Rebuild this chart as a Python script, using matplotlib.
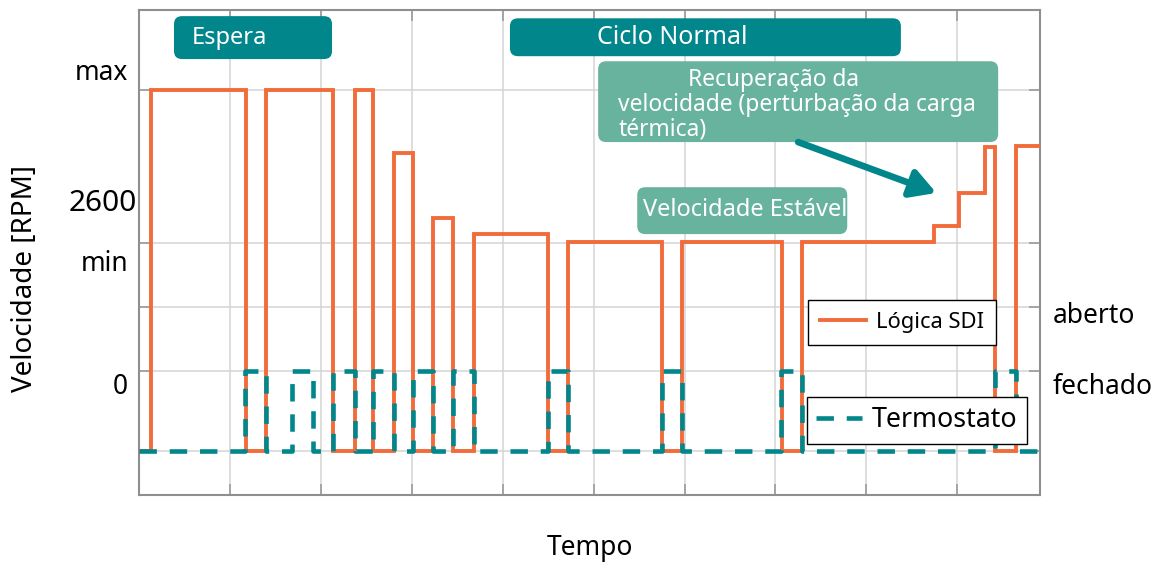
import matplotlib
matplotlib.use("Agg")
import matplotlib.pyplot as plt
from matplotlib.patches import FancyBboxPatch
from matplotlib.lines import Line2D

plt.rcParams['font.family'] = ['Noto Sans', 'DejaVu Sans']

# ---------------- data ----------------
time_sdi = [0, 0.13, 1.18, 1.40, 2.13, 2.38, 2.57, 2.81, 3.01, 3.23, 3.45, 3.69,
            4.50, 4.72, 5.75, 5.97, 7.07, 7.29, 8.74, 9.02, 9.31, 9.42, 9.65, 9.91]
speed_sdi = [0, 100, 0, 100, 0, 100, 0, 82.5, 0, 64.5, 0, 60.0,
             0, 57.8, 0, 57.8, 0, 57.8, 62.3, 71.6, 84.3, 0, 84.5, 84.5]

time_thermo = [0, 1.17, 1.40, 1.68, 1.91, 2.13, 2.38, 2.57, 2.81, 3.01, 3.23,
               3.45, 3.69, 4.50, 4.72, 5.75, 5.97, 7.06, 7.29, 9.42, 9.65, 9.91]
state_thermo = [0, 1, 0, 1, 0, 1, 0, 1, 0, 1, 0, 1, 0, 1, 0, 1, 0, 1, 0, 1, 0, 0]
thermo_open_level = 22.2

speed_tick_labels = ['max', '2600', 'min', '0']
speed_tick_pos = [104.7, 68.7, 51.8, 17.7]
thermo_labels = ['aberto', 'fechado']
thermo_label_pos = [37.4, 17.7]

ygrid = [0, 22.2, 39.9, 57.6, 100]
xgrid = [1, 2, 3, 4, 5, 6, 7, 8, 9]

ORANGE = '#F26B3A'
TEAL = '#00868B'
LGREEN = '#68B39D'

# ---------------- figure ----------------
W, H = 1168, 565
fig = plt.figure(figsize=(W / 100, H / 100), dpi=100)
ax = fig.add_axes([139 / W, 1 - 495 / H, (1040 - 139) / W, (495 - 10) / H])
xmin, xmax, ymin, ymax = 0, 9.91, -12.2, 122.2
ax.set_xlim(xmin, xmax)
ax.set_ylim(ymin, ymax)

ax.set_xticks(xgrid)
ax.set_yticks(ygrid)
ax.set_xticklabels([])
ax.set_yticklabels([])
ax.tick_params(direction='in', length=8, width=1.2, color='#9a9a9a',
               top=True, right=True)
ax.grid(True, color='#d4d4d4', linewidth=1.1)
ax.set_axisbelow(True)
for s in ax.spines.values():
    s.set_color('#8f8f8f')
    s.set_linewidth(1.5)

thermo_y = [s * thermo_open_level for s in state_thermo]

ax.plot(time_sdi, speed_sdi, drawstyle='steps-post', color=ORANGE,
        lw=2.8, solid_joinstyle='miter', zorder=3)
ax.plot(time_thermo, thermo_y, drawstyle='steps-post', color=TEAL,
        lw=3.3, linestyle=(0, (3.8, 2.8)), dash_capstyle='butt', zorder=4)

# tick-like labels
for lab, y in zip(speed_tick_labels, speed_tick_pos):
    xr = -0.022 if lab == '2600' else -0.121
    fs = 21.5 if lab == '2600' else 19
    ax.text(xr, y, lab, ha='right', va='center', fontsize=fs, clip_on=False)
for lab, y in zip(thermo_labels, thermo_label_pos):
    ax.text(10.05, y, lab, ha='left', va='center', fontsize=19, clip_on=False)

ax.set_xlabel('Tempo', fontsize=19)
ax.set_ylabel('Velocidade [RPM]', fontsize=20)
ax.xaxis.set_label_coords(0.5006, -0.109)
ax.xaxis.label.set_va('center')
ax.yaxis.set_label_coords(-0.1265, 0.447)
ax.yaxis.label.set_va('center')

# rounded boxes in data coords with circular corners in pixels
xpp = (xmax - xmin) / (1040 - 139)
ypp = (ymax - ymin) / (495 - 10)
asp = ypp / xpp
rad = 8 * xpp


def box(x0, x1, y0, y1, color):
    p = FancyBboxPatch((x0, y0), x1 - x0, y1 - y0,
                       boxstyle=f"round,pad=0,rounding_size={rad}",
                       mutation_aspect=asp, facecolor=color, edgecolor='none',
                       zorder=6, clip_on=False)
    ax.add_patch(p)


box(0.385, 2.123, 108.6, 120.5, TEAL)
ax.text(0.58, 114.5, 'Espera', color='white', fontsize=17, ha='left',
        va='center', zorder=7)
box(4.08, 8.38, 109.4, 119.9, TEAL)
ax.text(5.86, 114.7, 'Ciclo Normal', color='white', fontsize=18, ha='center',
        va='center', zorder=7)
box(5.05, 9.45, 85.6, 108.0, LGREEN)
ax.text(6.04, 102.8, 'Recuperação da', color='white', fontsize=16.4,
        ha='left', va='center', zorder=7)
ax.text(5.27, 95.8, 'velocidade (perturbação da carga', color='white',
        fontsize=16.4, ha='left', va='center', zorder=7)
ax.text(5.27, 89.2, 'térmica)', color='white', fontsize=16.4, ha='left',
        va='center', zorder=7)
box(5.48, 7.79, 60.1, 73.1, LGREEN)
ax.text(5.54, 66.8, 'Velocidade Estável', color='white', fontsize=17,
        ha='left', va='center', zorder=7)

ax.annotate('', xy=(8.77, 71.5), xytext=(7.25, 85.6),
            arrowprops=dict(arrowstyle='-|>,head_length=1.5,head_width=0.85',
                            color=TEAL, lw=4.8, shrinkA=0, shrinkB=0),
            zorder=7)

# legends
leg1 = ax.legend([Line2D([], [], color=ORANGE, lw=2.8)], ['Lógica SDI'],
                 loc='upper left', bbox_to_anchor=(808 / W, 1 - 300 / H),
                 bbox_transform=fig.transFigure, fontsize=15.8,
                 fancybox=False, edgecolor='black', framealpha=1,
                 handlelength=2.1, handletextpad=0.45, borderpad=0.55,
                 borderaxespad=0)
leg1.get_frame().set_linewidth(1.0)
leg1.set_zorder(8)
ax.add_artist(leg1)
leg2 = ax.legend([Line2D([], [], color=TEAL, lw=3.3, linestyle=(0, (3.8, 2.8)))],
                 ['Termostato'], loc='upper left',
                 bbox_to_anchor=(807 / W, 1 - 397 / H),
                 bbox_transform=fig.transFigure, fontsize=19.3,
                 fancybox=False, edgecolor='black', framealpha=1,
                 handlelength=1.72, handletextpad=0.36, borderpad=0.35,
                 borderaxespad=0)
leg2.get_frame().set_linewidth(1.0)
leg2.set_zorder(8)

fig.savefig('out.png', dpi=100)
